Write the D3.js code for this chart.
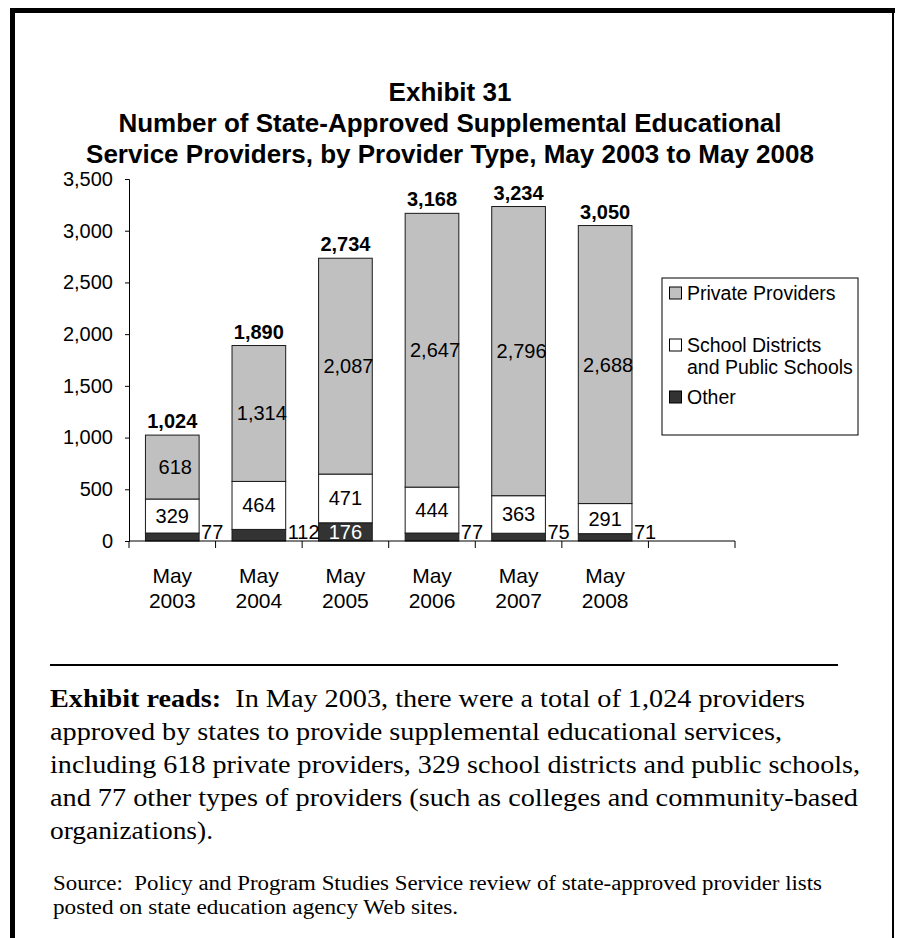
<!DOCTYPE html>
<html>
<head>
<meta charset="utf-8">
<script src="https://cdn.jsdelivr.net/npm/d3@7"></script>
<style>
  html, body { margin: 0; padding: 0; background: #fff; }
  svg { display: block; }
</style>
</head>
<body>
<svg id="chart" width="898" height="938"></svg>
<script>
// Provider counts per survey date
const categories = ["May 2003", "May 2004", "May 2005", "May 2006", "May 2007", "May 2008", ""];
const privateProviders = [618, 1314, 2087, 2647, 2796, 2688];
const schoolDistricts = [329, 464, 471, 444, 363, 291];
const otherProviders = [77, 112, 176, 77, 75, 71];
const totals = [1024, 1890, 2734, 3168, 3234, 3050];
const yTicks = [0, 500, 1000, 1500, 2000, 2500, 3000, 3500];
const seriesNames = ["Private Providers", "School Districts and Public Schools", "Other"];

const titleLines = [
  "Exhibit 31",
  "Number of State-Approved Supplemental Educational",
  "Service Providers, by Provider Type, May 2003 to May 2008"
];
const readsLines = [
  "In May 2003, there were a total of 1,024 providers",
  "approved by states to provide supplemental educational services,",
  "including 618 private providers, 329 school districts and public schools,",
  "and 77 other types of providers (such as colleges and community-based",
  "organizations)."
];
const readsWidths = [755, 732, 810, 808, 163];
const sourceLines = [
  "Source:  Policy and Program Studies Service review of state-approved provider lists",
  "posted on state education agency Web sites."
];
const sourceWidths = [769, 405];

const colors = { private: "#c0c0c0", school: "#ffffff", other: "#333333" };
const sans = "'Liberation Sans', Arial, sans-serif";
const serif = "'Liberation Serif', 'Times New Roman', serif";

const svg = d3.select("#chart");

// Frame
svg.append("rect").attr("x", 10).attr("y", 8).attr("width", 5).attr("height", 930).attr("fill", "#000");
svg.append("rect").attr("x", 10).attr("y", 8).attr("width", 885).attr("height", 5).attr("fill", "#000");
svg.append("rect").attr("x", 892).attr("y", 8).attr("width", 2).attr("height", 930).attr("fill", "#000");

// Title
svg.append("g").selectAll("text").data(titleLines).join("text")
  .attr("x", 450)
  .attr("y", (d, i) => 101 + i * 31)
  .attr("text-anchor", "middle")
  .attr("font-family", sans)
  .attr("font-weight", "bold")
  .attr("font-size", 26)
  .attr("fill", "#000")
  .text(d => d);

// Scales
const x = d3.scaleBand().domain(categories).range([129, 735]).paddingInner(0).paddingOuter(0);
const y = d3.scaleLinear().domain([0, 3500]).range([541, 179]);
const barW = x.bandwidth() * 0.62;
const barX = c => x(c) + (x.bandwidth() - barW) / 2;

// Y axis
const yAxis = svg.append("g").attr("transform", "translate(129,0)")
  .call(d3.axisLeft(y).tickValues(yTicks).tickSize(4).tickPadding(12).tickFormat(d3.format(",")));
yAxis.selectAll("path, line").attr("stroke", "#000").attr("stroke-width", 1);
yAxis.selectAll("text").attr("font-family", sans).attr("font-size", 20).attr("fill", "#000");

// Stacked bars
const data = categories.slice(0, 6).map((c, i) => ({
  cat: c, other: otherProviders[i], school: schoolDistricts[i], priv: privateProviders[i], total: totals[i]
}));
const stack = d3.stack().keys(["other", "school", "priv"]);
const layers = stack(data);
const fillFor = { other: colors.other, school: colors.school, priv: colors.private };

const barsG = svg.append("g");
layers.forEach(layer => {
  barsG.append("g").selectAll("rect").data(layer).join("rect")
    .attr("x", d => barX(d.data.cat))
    .attr("y", d => y(d[1]))
    .attr("width", barW)
    .attr("height", d => y(d[0]) - y(d[1]))
    .attr("fill", fillFor[layer.key])
    .attr("stroke", "#1a1a1a")
    .attr("stroke-width", 1);
});

// X axis
const xAxis = svg.append("g").attr("transform", "translate(0,541)");
xAxis.append("line").attr("x1", 129).attr("x2", 735).attr("y1", 0).attr("y2", 0).attr("stroke", "#000");
xAxis.selectAll("line.tick").data(categories.concat(["end"])).join("line")
  .attr("class", "tick")
  .attr("x1", (d, i) => i < categories.length ? x(d) : x(categories[categories.length - 1]) + x.bandwidth())
  .attr("x2", (d, i) => i < categories.length ? x(d) : x(categories[categories.length - 1]) + x.bandwidth())
  .attr("y1", 0).attr("y2", 7).attr("stroke", "#000");

const catLabels = svg.append("g").selectAll("text").data(categories.filter(c => c)).join("text")
  .attr("x", d => x(d) + x.bandwidth() / 2)
  .attr("text-anchor", "middle")
  .attr("font-family", sans).attr("font-size", 21).attr("fill", "#000");
catLabels.append("tspan").attr("x", d => x(d) + x.bandwidth() / 2).attr("y", 583).text(d => d.split(" ")[0]);
catLabels.append("tspan").attr("x", d => x(d) + x.bandwidth() / 2).attr("y", 608).text(d => d.split(" ")[1]);

// Value labels
const fmt = d3.format(",");
const labelsG = svg.append("g").attr("font-family", sans).attr("font-size", 20);
// Private providers
labelsG.selectAll("text.priv").data(data).join("text").attr("class", "priv")
  .attr("x", d => barX(d.cat) + barW / 2 + 3)
  .attr("y", d => (y(d.other + d.school) + y(d.total)) / 2 + 7)
  .attr("text-anchor", "middle").attr("fill", "#000")
  .text(d => fmt(d.priv));
// School districts
labelsG.selectAll("text.school").data(data).join("text").attr("class", "school")
  .attr("x", d => barX(d.cat) + barW / 2)
  .attr("y", d => (y(d.other) + y(d.other + d.school)) / 2 + 7)
  .attr("text-anchor", "middle").attr("fill", "#000")
  .text(d => fmt(d.school));
// Other: inside the bar when tall enough, otherwise beside it
labelsG.selectAll("text.other").data(data).join("text").attr("class", "other")
  .attr("x", d => d.other > 150 ? barX(d.cat) + barW / 2 : barX(d.cat) + barW + 2)
  .attr("y", 539)
  .attr("text-anchor", d => d.other > 150 ? "middle" : "start")
  .attr("fill", d => d.other > 150 ? "#fff" : "#000")
  .text(d => fmt(d.other));
// Totals
labelsG.selectAll("text.total").data(data).join("text").attr("class", "total")
  .attr("x", d => barX(d.cat) + barW / 2)
  .attr("y", d => y(d.total) - 7)
  .attr("text-anchor", "middle").attr("font-weight", "bold").attr("fill", "#000")
  .text(d => fmt(d.total));

// Legend
const legend = svg.append("g");
legend.append("rect").attr("x", 662).attr("y", 278).attr("width", 196).attr("height", 157)
  .attr("fill", "#fff").attr("stroke", "#000").attr("stroke-width", 1);
const legendItems = [
  { name: seriesNames[0], color: colors.private, lines: ["Private Providers"], cy: 293 },
  { name: seriesNames[1], color: colors.school, lines: ["School Districts", "and Public Schools"], cy: 345 },
  { name: seriesNames[2], color: colors.other, lines: ["Other"], cy: 397 }
];
legendItems.forEach(it => {
  legend.append("rect").attr("x", 669.5).attr("y", it.cy - 6).attr("width", 12).attr("height", 12)
    .attr("fill", it.color).attr("stroke", "#000").attr("stroke-width", 1);
  it.lines.forEach((ln, j) => {
    legend.append("text").attr("x", 687).attr("y", it.cy + 7 + j * 22)
      .attr("font-family", sans).attr("font-size", 19.5).attr("fill", "#000").text(ln);
  });
});

// Separator
svg.append("line").attr("x1", 50).attr("x2", 838).attr("y1", 665).attr("y2", 665)
  .attr("stroke", "#000").attr("stroke-width", 2);

// Reading note
const reads = svg.append("g").attr("font-family", serif).attr("font-size", 25).attr("fill", "#000");
readsLines.forEach((ln, i) => {
  const t = reads.append("text").attr("x", 50).attr("y", 707 + i * 33);
  if (i === 0) {
    t.append("tspan").attr("font-weight", "bold").text("Exhibit reads:");
    t.append("tspan").text("\u00a0\u00a0" + ln);
  } else {
    t.text(ln);
  }
  t.attr("textLength", readsWidths[i]).attr("lengthAdjust", "spacingAndGlyphs");
});

// Source note
const src = svg.append("g").attr("font-family", serif).attr("font-size", 20).attr("fill", "#000");
sourceLines.forEach((ln, i) => {
  src.append("text").attr("x", 53).attr("y", 890 + i * 24)
    .attr("textLength", sourceWidths[i]).attr("lengthAdjust", "spacingAndGlyphs")
    .text(ln.replace("  ", "\u00a0 "));
});
</script>
</body>
</html>
